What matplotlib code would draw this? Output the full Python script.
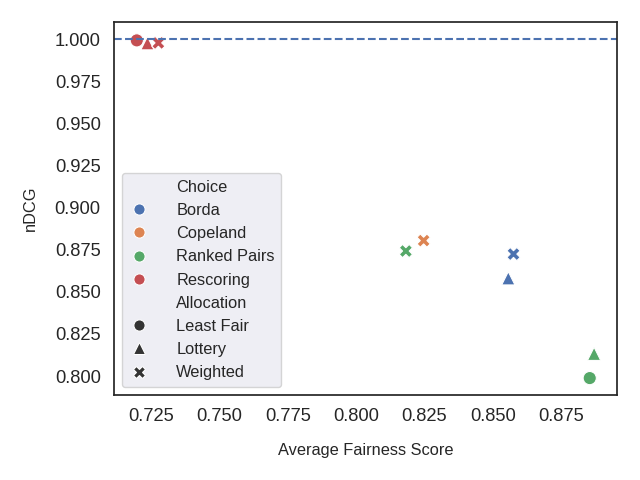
import numpy as np
import pandas as pd
import matplotlib
matplotlib.use("Agg")
import matplotlib.pyplot as plt
import seaborn as sns

choice = ['Rescoring', 'Rescoring', 'Rescoring',
          'Borda', 'Borda',
          'Copeland',
          'Ranked Pairs', 'Ranked Pairs', 'Ranked Pairs']
allocation = ['Least Fair', 'Lottery', 'Weighted',
              'Lottery', 'Weighted',
              'Weighted',
              'Least Fair', 'Lottery', 'Weighted']
fairness = [0.7197, 0.7236, 0.7276,
            0.8557, 0.8576,
            0.8247,
            0.8855, 0.8871, 0.8182]
ndcg = [0.9992, 0.9975, 0.9977,
        0.8580, 0.8724,
        0.8804,
        0.7988, 0.8132, 0.8742]

hue_order = ['Borda', 'Copeland', 'Ranked Pairs', 'Rescoring']
style_order = ['Least Fair', 'Lottery', 'Weighted']
markers = {'Least Fair': 'o', 'Lottery': '^', 'Weighted': 'X'}

df = pd.DataFrame({'Choice': choice, 'Allocation': allocation,
                   'Average Fairness Score': fairness, 'nDCG': ndcg})

sns.set_theme(style='white')
plt.rcParams['font.family'] = ['Liberation Sans', 'DejaVu Sans']
plt.rcParams['legend.facecolor'] = '#EAEAF2'
plt.rcParams['axes.edgecolor'] = '#262626'

fig, ax = plt.subplots(figsize=(6.4, 4.8), dpi=100)
ax.axhline(1.0, ls='--', color='#4C72B0', lw=1.5)
sns.scatterplot(data=df, x='Average Fairness Score', y='nDCG',
                hue='Choice', style='Allocation',
                hue_order=hue_order, style_order=style_order,
                markers=markers, s=90, ax=ax)

ax.tick_params(axis='both', labelsize=13.2)
ax.set_xlabel('Average Fairness Score', fontsize=11.8, labelpad=13)
ax.set_ylabel('nDCG', fontsize=11.8, labelpad=12)
for sp in ax.spines.values():
    sp.set_linewidth(1.25)
ax.legend(loc='lower left', fontsize=11.8, markerscale=0.85,
          handlelength=1.2, handletextpad=1.7)

fig.subplots_adjust(left=0.178, right=0.964, top=0.954, bottom=0.177)
fig.savefig('out.png')
